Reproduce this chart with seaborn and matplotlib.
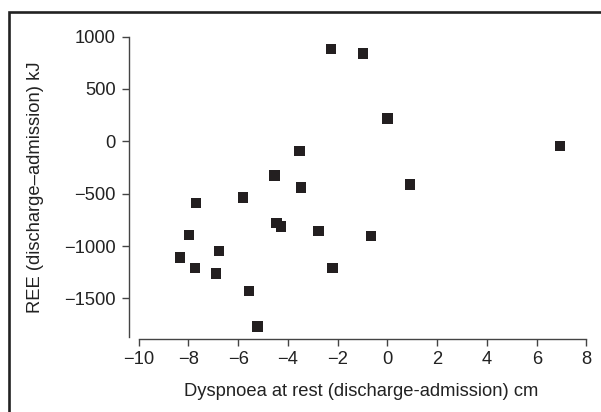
import matplotlib
matplotlib.use("Agg")
import matplotlib.pyplot as plt
from matplotlib.patches import Rectangle
import seaborn as sns
import pandas as pd

# Data
dyspnoea_cm = [-2.27, -0.98, 0.01, -3.53, 6.94, -4.53, -3.48, 0.91, -7.70, -5.81,
               -4.45, -4.28, -2.78, -0.66, -7.98, -6.78, -8.34, -7.74, -6.89, -2.20,
               -5.57, -5.23]
ree_kj = [882, 841, 220, -92, -45, -328, -439, -410, -589, -538,
          -780, -811, -856, -904, -895, -1047, -1111, -1210, -1260, -1210,
          -1429, -1770]
x_ticks = [-10, -8, -6, -4, -2, 0, 2, 4, 6, 8]
y_ticks = [-1500, -1000, -500, 0, 500, 1000]
x_label = "Dyspnoea at rest (discharge-admission) cm"
y_label = "REE (discharge\u2013admission) kJ"

df = pd.DataFrame({"x": dyspnoea_cm, "y": ree_kj})

sns.set_style("ticks")
plt.rcParams["font.family"] = ["Liberation Sans", "DejaVu Sans"]

ink = "#231f20"
fs = 13.2
fig = plt.figure(figsize=(6.01, 4.12), dpi=100)
ax = fig.add_axes([129 / 601, 73 / 412, 464.9 / 601, 303.4 / 412])

sns.scatterplot(data=df, x="x", y="y", ax=ax, marker="s", s=58,
                color=ink, edgecolor="none", linewidth=0, clip_on=False)

ax.set_xlim(-10.39, 8.3)
ax.set_ylim(-1888, 1010)
ax.set_xticks(x_ticks)
ax.set_yticks(y_ticks)
ax.spines["top"].set_visible(False)
ax.spines["right"].set_visible(False)
ax.spines["bottom"].set_bounds(-10, 8)
ax.spines["left"].set_bounds(-1866, 1000)
for s in ("bottom", "left"):
    ax.spines[s].set_color("#444444")
    ax.spines[s].set_linewidth(1.0)
ax.tick_params(axis="both", direction="out", length=5, width=1.0,
               color="#444444", labelsize=fs, labelcolor="#222222")
ax.tick_params(axis="x", pad=3.5)
ax.tick_params(axis="y", pad=4.5)
ax.set_xlabel(x_label, fontsize=fs, color="#222222", labelpad=11)
ax.set_ylabel(y_label, fontsize=fs, color="#222222", labelpad=14.5)

# outer frame (partially outside the image, as in the reference)
frame = Rectangle((8.7 / 601, -0.2), 1.5, (412 - 11.5) / 412 + 0.2,
                  transform=fig.transFigure, fill=False, edgecolor="#222222",
                  linewidth=1.9, clip_on=False)
fig.patches.append(frame)

fig.savefig("out.png", dpi=100)
